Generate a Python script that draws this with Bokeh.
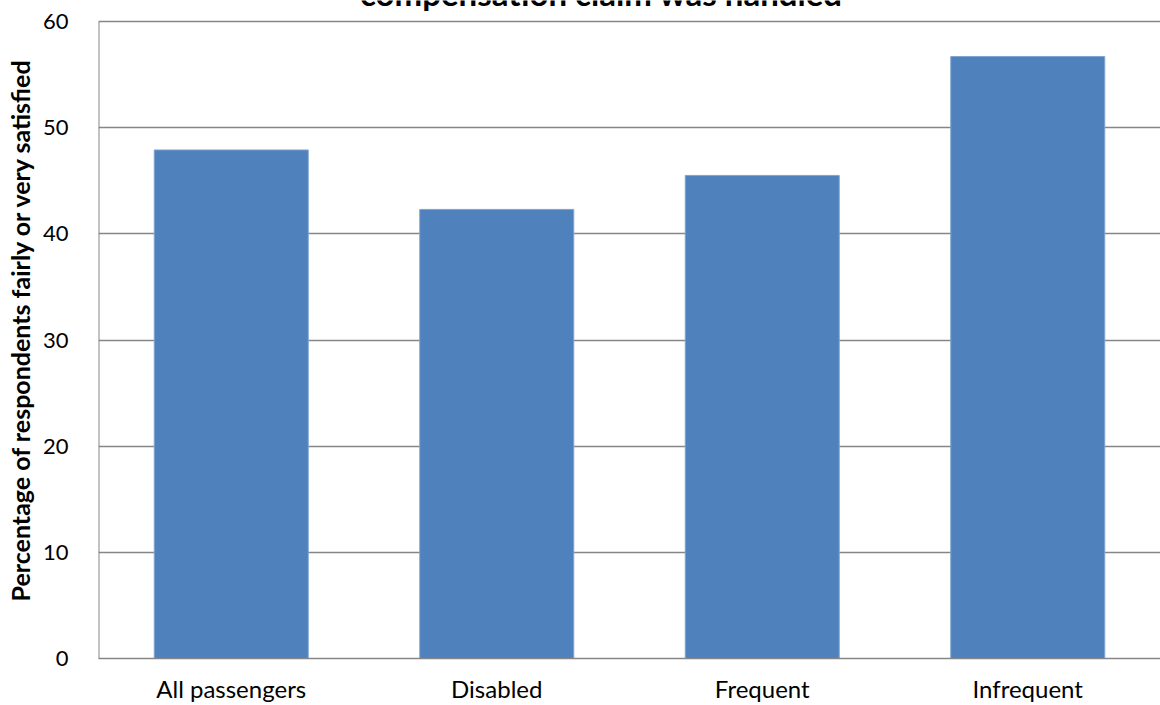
from bokeh.plotting import figure
from bokeh.models import ColumnDataSource, Label, FixedTicker
from bokeh.embed import file_html
from bokeh.resources import INLINE

categories = ["All passengers", "Disabled", "Frequent", "Infrequent"]
values = [47.9, 42.3, 45.5, 56.7]
y_ticks = [0, 10, 20, 30, 40, 50, 60]
title_text = "compensation claim was handled"
y_label = "Percentage of respondents fairly or very satisfied"

FONT = "Lato"
Y_MAX = 60
FRAME_H = 658          # pixel height of frame (top of canvas to x-axis)
AXIS_H = 637           # pixels from 0 to 60
y_end = Y_MAX * FRAME_H / AXIS_H

src = ColumnDataSource(data=dict(cat=categories, val=values))

p = figure(x_range=categories, y_range=(0, y_end), width=1160, height=705,
           output_backend="svg", toolbar_location=None,
           min_border_left=98, min_border_right=0, min_border_top=0, min_border_bottom=47)
p.outline_line_color = None
p.background_fill_color = "white"

p.vbar(x="cat", top="val", width=0.58, source=src,
       fill_color="#4F81BD", line_color="#7FA3D0", line_width=1)

# y axis line only up to 60
p.segment(x0=[0], y0=[0], x1=[0], y1=[Y_MAX], line_color="#868686", line_width=2)

p.xgrid.grid_line_color = None
p.ygrid.grid_line_color = "#868686"
p.ygrid.grid_line_width = 1.5
p.ygrid.ticker = FixedTicker(ticks=y_ticks)

p.yaxis.ticker = FixedTicker(ticks=y_ticks)
p.yaxis.axis_line_color = None
p.yaxis.major_tick_line_color = None
p.yaxis.minor_tick_line_color = None
p.yaxis.major_label_text_font = FONT
p.yaxis.major_label_text_font_size = "22px"
p.yaxis.major_label_text_color = "black"
p.yaxis.major_label_standoff = 24
p.yaxis.axis_label = y_label
p.yaxis.axis_label_text_font = FONT
p.yaxis.axis_label_text_font_size = "25px"
p.yaxis.axis_label_text_font_style = "bold"
p.yaxis.axis_label_text_color = "black"
p.yaxis.axis_label_standoff = 5

p.xaxis.axis_line_color = "#868686"
p.xaxis.axis_line_width = 1.5
p.xaxis.major_tick_line_color = None
p.xaxis.minor_tick_line_color = None
p.xaxis.major_label_text_font = FONT
p.xaxis.major_label_text_font_size = "24px"
p.xaxis.major_label_text_color = "black"
p.xaxis.major_label_standoff = 9

title = Label(x=1.894, y=Y_MAX + 29 * Y_MAX / AXIS_H, text=title_text, text_align="center",
              text_baseline="alphabetic", text_font=FONT, text_font_size="33px",
              text_font_style="bold", text_color="black")
p.add_layout(title)

open("out.html", "w").write(file_html(p, INLINE))
